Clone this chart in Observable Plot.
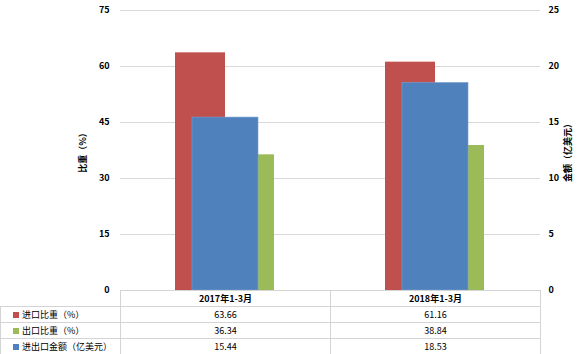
<!DOCTYPE html>
<html><head><meta charset="utf-8">
<script src="https://cdn.jsdelivr.net/npm/d3@7"></script>
<script src="https://cdn.jsdelivr.net/npm/@observablehq/plot@0.6"></script>
<style>
body{margin:0;background:#fff;font-family:"Noto Sans CJK SC","Noto Sans",sans-serif;}
#wrap{position:relative;width:580px;height:354px;overflow:hidden;background:#fff;}
#wrap svg{position:absolute;left:0;top:0;}
table{position:absolute;left:0;top:290px;border-collapse:collapse;font-size:9px;color:#000;}
td{border:1px solid #d4d4d4;height:15px;padding:0;text-align:center;line-height:15px;white-space:nowrap;}
td.lab{text-align:left;padding-left:12px;}
td.blank{border:none;}
th{border:1px solid #d4d4d4;height:15px;padding:0;text-align:center;font-weight:bold;line-height:15px;}
.key{display:inline-block;width:6px;height:6px;margin-right:3px;vertical-align:0px;}
</style></head><body><div id="wrap"></div>
<script>
const categories = ["2017年1-3月", "2018年1-3月"];
const importShare = [63.66, 61.16];
const exportShare = [36.34, 38.84];
const tradeValue = [15.44, 18.53];
const seriesNames = ["进口比重（%）", "出口比重（%）", "进出口金额（亿美元）"];
const leftTicks = [0, 15, 30, 45, 60, 75];
const rightTicks = [0, 5, 10, 15, 20, 25];
const colors = ["#C0504D", "#9BBB59", "#4F81BD"];
const leftTitle = "比重（%）";
const rightTitle = "金额（亿美元）";

const ratio = leftTicks[leftTicks.length - 1] / rightTicks[rightTicks.length - 1];
const rows = categories.map((c, i) => ({category: c, imp: importShare[i], exp: exportShare[i], val: tradeValue[i]}));

const chart = Plot.plot({
  width: 580, height: 300,
  marginLeft: 120, marginRight: 40, marginTop: 10, marginBottom: 10,
  x: {domain: categories, padding: 0, axis: null},
  y: {domain: [0, 75], axis: null},
  style: {fontFamily: '"Noto Sans CJK SC","Noto Sans",sans-serif', fontSize: "9px", color: "#000", background: "transparent"},
  marks: [
    Plot.gridY(leftTicks.slice(1), {stroke: "#d9d9d9", strokeOpacity: 1}),
    Plot.barY(rows, {x: "category", y: "imp", fill: colors[0], insetLeft: 55, insetRight: 105}),
    Plot.barY(rows, {x: "category", y: "exp", fill: colors[1], insetLeft: 138, insetRight: 56}),
    Plot.barY(rows, {x: "category", y: d => d.val * ratio, fill: colors[2], stroke: "#7a9fd0", strokeWidth: 0.6, insetLeft: 72, insetRight: 72}),
    Plot.axisY({ticks: leftTicks, anchor: "left", tickSize: 0, tickPadding: 11, label: null, fontWeight: "bold"}),
    Plot.axisY({ticks: rightTicks.map(t => t * ratio), anchor: "right", tickSize: 0, tickPadding: 8, tickFormat: d => d / ratio, label: null, fontWeight: "bold"}),
    Plot.text([leftTitle], {frameAnchor: "left", dx: -37, rotate: -90, textAnchor: "middle", fontWeight: "bold"}),
    Plot.text([rightTitle], {frameAnchor: "right", dx: 28, rotate: -90, textAnchor: "middle", fontWeight: "bold"})
  ]
});
const wrap = document.getElementById("wrap");
wrap.appendChild(chart);

const series = [importShare, exportShare, tradeValue];
let html = '<colgroup><col style="width:120px"><col style="width:210px"><col style="width:210px"></colgroup>';
html += '<tr><td class="blank"></td>' + categories.map(c => `<th>${c}</th>`).join("") + '</tr>';
series.forEach((s, k) => {
  html += `<tr><td class="lab"><span class="key" style="background:${colors[k]}"></span>${seriesNames[k]}</td>` +
    s.map(v => `<td>${v.toFixed(2)}</td>`).join("") + '</tr>';
});
const table = document.createElement("table");
table.innerHTML = html;
wrap.appendChild(table);
</script>
</body></html>
